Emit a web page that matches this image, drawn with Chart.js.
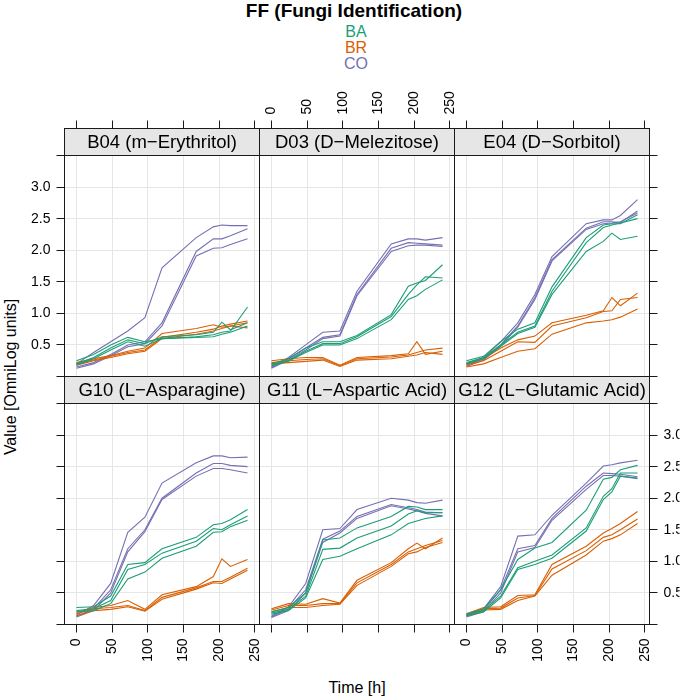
<!DOCTYPE html>
<html><head><meta charset="utf-8">
<script src="https://cdn.jsdelivr.net/npm/chart.js@4.4.1/dist/chart.umd.min.js"></script>
<style>
html,body{margin:0;padding:0;background:#fff;}
#wrap{position:relative;width:685px;height:697px;overflow:hidden;font-family:"Liberation Sans",Arial,Helvetica,sans-serif;}
canvas{position:absolute;left:0;top:0;}
.t{position:absolute;white-space:nowrap;line-height:1;transform:translate(-50%,-50%);color:#000;}
</style></head><body><div id="wrap">
<div class="t" style="left:354px;top:10px;font-size:19px;font-weight:bold;">FF (Fungi Identification)</div>
<div class="t" style="left:356px;top:32px;font-size:16px;color:#1B9E77;">BA</div>
<div class="t" style="left:356px;top:48px;font-size:16px;color:#D95F02;">BR</div>
<div class="t" style="left:356px;top:64px;font-size:16px;color:#7570B3;">CO</div>
<div class="t" style="left:357px;top:688px;font-size:16px;">Time [h]</div>
<div class="t" style="left:11px;top:377px;font-size:16px;transform:translate(-50%,-50%) rotate(-90deg);">Value [OmniLog units]</div>
</div>
<script>
// ---- data ----
const times = [0, 24, 48, 72, 96, 120, 168, 192, 204, 216, 240];
const groups = ['BA', 'BR', 'CO'];
const groupColors = ['#1B9E77', '#D95F02', '#7570B3'];
const panelTitles = ['B04 (m\u2212Erythritol)', 'D03 (D\u2212Melezitose)', 'E04 (D\u2212Sorbitol)',
                     'G10 (L\u2212Asparagine)', 'G11 (L\u2212Aspartic Acid)', 'G12 (L\u2212Glutamic Acid)'];
const xTickValues = [0, 50, 100, 150, 200, 250];
const xTickLabels = ['0', '50', '100', '150', '200', '250'];
const yTickValues = [0, 0.5, 1, 1.5, 2, 2.5, 3, 3.5];
const yTickLabels = ['', '0.5', '1.0', '1.5', '2.0', '2.5', '3.0', ''];

const B04_BA = [[0.25,0.35,0.50,0.62,0.55,0.60,0.63,0.66,0.70,0.72,1.10],
                [0.20,0.30,0.45,0.58,0.52,0.63,0.66,0.70,0.86,0.74,0.85],
                [0.18,0.28,0.42,0.55,0.48,0.60,0.62,0.63,0.67,0.70,0.80]];
const B04_BR = [[0.22,0.28,0.33,0.40,0.45,0.68,0.76,0.82,0.78,0.80,0.77],
                [0.20,0.26,0.32,0.38,0.42,0.62,0.70,0.75,0.80,0.83,0.88],
                [0.18,0.25,0.30,0.36,0.40,0.60,0.67,0.72,0.76,0.80,0.85]];
const B04_CO = [[0.20,0.38,0.55,0.72,0.93,1.72,2.20,2.37,2.40,2.39,2.39],
                [0.15,0.22,0.35,0.50,0.55,0.85,1.98,2.18,2.18,2.23,2.34],
                [0.13,0.20,0.33,0.47,0.52,0.80,1.91,2.03,2.04,2.09,2.18]];

const D03_BA = [[0.20,0.28,0.45,0.55,0.55,0.65,0.98,1.43,1.48,1.52,1.77],
                [0.18,0.25,0.40,0.52,0.52,0.63,0.95,1.30,1.45,1.58,1.56],
                [0.17,0.24,0.38,0.50,0.50,0.60,0.90,1.22,1.28,1.38,1.53]];
const D03_BR = [[0.25,0.28,0.30,0.30,0.18,0.30,0.33,0.36,0.55,0.35,0.40],
                [0.22,0.25,0.27,0.28,0.17,0.28,0.31,0.34,0.38,0.42,0.45],
                [0.20,0.22,0.24,0.26,0.16,0.26,0.28,0.32,0.34,0.38,0.35]];
const D03_CO = [[0.15,0.30,0.50,0.70,0.72,1.35,2.10,2.18,2.18,2.16,2.20],
                [0.14,0.28,0.45,0.62,0.66,1.30,2.03,2.12,2.11,2.10,2.08],
                [0.13,0.26,0.42,0.60,0.64,1.28,1.98,2.07,2.08,2.08,2.06]];

const E04_BA = [[0.25,0.32,0.55,0.75,0.85,1.42,2.20,2.40,2.42,2.42,2.56],
                [0.22,0.30,0.50,0.70,0.80,1.35,2.12,2.36,2.40,2.43,2.50],
                [0.20,0.28,0.48,0.68,0.78,1.30,1.98,2.14,2.27,2.17,2.22]];
const E04_BR = [[0.20,0.28,0.45,0.58,0.64,0.85,0.97,1.04,1.25,1.12,1.32],
                [0.18,0.25,0.40,0.55,0.54,0.80,0.93,1.03,1.04,1.22,1.25],
                [0.15,0.20,0.30,0.40,0.44,0.67,0.85,0.88,0.90,0.94,1.07]];
const E04_CO = [[0.20,0.30,0.55,0.85,1.30,1.90,2.42,2.48,2.48,2.55,2.80],
                [0.18,0.28,0.50,0.80,1.25,1.85,2.35,2.45,2.45,2.44,2.62],
                [0.16,0.26,0.48,0.78,1.22,1.83,2.33,2.42,2.43,2.45,2.59]];

const G10_BA = [[0.27,0.28,0.45,0.95,0.98,1.20,1.38,1.58,1.60,1.66,1.82],
                [0.22,0.25,0.38,0.87,0.95,1.13,1.32,1.52,1.50,1.58,1.72],
                [0.20,0.22,0.33,0.72,0.83,1.05,1.24,1.46,1.47,1.55,1.65]];
const G10_BR = [[0.19,0.27,0.30,0.38,0.24,0.47,0.60,0.76,1.04,0.92,1.03],
                [0.17,0.25,0.27,0.30,0.22,0.43,0.58,0.68,0.68,0.75,0.89],
                [0.14,0.22,0.24,0.28,0.21,0.40,0.56,0.66,0.65,0.72,0.86]];
const G10_CO = [[0.15,0.30,0.65,1.46,1.70,2.24,2.56,2.67,2.67,2.64,2.65],
                [0.13,0.25,0.55,1.20,1.50,2.00,2.40,2.55,2.55,2.52,2.50],
                [0.12,0.22,0.50,1.15,1.47,1.98,2.35,2.47,2.47,2.45,2.40]];

const G11_BA = [[0.20,0.27,0.50,1.34,1.37,1.53,1.71,1.87,1.86,1.82,1.82],
                [0.18,0.24,0.45,1.19,1.21,1.37,1.56,1.75,1.80,1.77,1.77],
                [0.16,0.22,0.42,1.03,1.08,1.20,1.42,1.60,1.64,1.68,1.72]];
const G11_BR = [[0.25,0.33,0.32,0.41,0.34,0.70,0.98,1.20,1.29,1.20,1.37],
                [0.23,0.30,0.30,0.33,0.33,0.66,0.95,1.15,1.20,1.25,1.33],
                [0.20,0.27,0.27,0.30,0.32,0.62,0.92,1.12,1.15,1.22,1.30]];
const G11_CO = [[0.13,0.28,0.65,1.50,1.52,1.82,2.00,1.97,1.93,1.92,1.97],
                [0.12,0.25,0.55,1.35,1.48,1.71,1.90,1.85,1.82,1.78,1.77],
                [0.11,0.22,0.50,1.30,1.45,1.68,1.88,1.83,1.80,1.76,1.72]];

const G12_BA = [[0.17,0.25,0.55,1.03,1.21,1.30,1.81,2.30,2.33,2.45,2.52],
                [0.15,0.22,0.45,0.90,1.00,1.10,1.53,2.03,2.15,2.40,2.40],
                [0.14,0.20,0.42,0.87,0.95,1.05,1.48,1.98,2.10,2.35,2.32]];
const G12_BR = [[0.17,0.27,0.28,0.46,0.47,0.95,1.24,1.45,1.52,1.60,1.79],
                [0.16,0.25,0.26,0.42,0.46,0.88,1.17,1.38,1.42,1.50,1.67],
                [0.15,0.23,0.24,0.38,0.45,0.78,1.10,1.32,1.36,1.42,1.60]];
const G12_CO = [[0.15,0.25,0.60,1.40,1.42,1.73,2.24,2.51,2.53,2.56,2.60],
                [0.13,0.22,0.55,1.20,1.25,1.68,2.19,2.40,2.39,2.38,2.34],
                [0.12,0.20,0.50,1.15,1.22,1.65,2.14,2.36,2.36,2.35,2.31]];

const panelSeries = [[B04_BA, B04_BR, B04_CO], [D03_BA, D03_BR, D03_CO], [E04_BA, E04_BR, E04_CO],
                     [G10_BA, G10_BR, G10_CO], [G11_BA, G11_BR, G11_CO], [G12_BA, G12_BR, G12_CO]];

// ---- layout / style ----
const W = 685, H = 697;
const colLeft = [64.5, 259.5, 454.5], colW = 195;
const rowTop = [128.5, 376.5], boxH = 248, stripH = 27;
const xMin = -16.8, xMax = 256.8, yLo = 0, yHi = 3.5;
const plotH = boxH - stripH;
const yHiChart = yHi + stripH * (yHi - yLo) / plotH;
const FONT = '"Liberation Sans", Arial, Helvetica, sans-serif';
const TICK_FONT = 14;
const tickLen = 8;
const topH = 60, bottomH = 60, leftW = 50, rightW = 30;

function gridAxis(axisId) {
  const isX = axisId === 'x';
  return {
    type: 'linear', axis: isX ? 'x' : 'y', position: isX ? 'bottom' : 'left',
    min: isX ? xMin : yLo, max: isX ? xMax : yHiChart,
    grid: { display: true, drawOnChartArea: true, drawTicks: false, color: '#E6E6E6', lineWidth: 1 },
    border: { display: false },
    ticks: { display: false },
    afterBuildTicks: s => { s.ticks = (isX ? xTickValues : yTickValues).map(v => ({ value: v })); },
    afterFit: s => { if (isX) s.height = 0; else s.width = 0; }
  };
}
function tickAxis(isX, position, showLabels, size) {
  const vals = isX ? xTickValues : yTickValues;
  const labs = isX ? xTickLabels : yTickLabels;
  return {
    type: 'linear', axis: isX ? 'x' : 'y', position,
    min: isX ? xMin : yLo, max: isX ? xMax : yHiChart,
    grid: { display: true, drawOnChartArea: false, drawTicks: true, tickLength: tickLen, tickColor: '#1a1a1a', tickWidth: 1 },
    border: { display: false },
    ticks: { display: showLabels, autoSkip: false, color: '#000', font: { family: FONT, size: TICK_FONT },
             padding: 6, minRotation: isX ? 90 : 0, maxRotation: isX ? 90 : 0,
             // Chart.js shifts rotated top-axis labels by one line height; compensate
             labelOffset: position === 'top' ? TICK_FONT * 1.2 : 0,
             callback: (v, i) => labs[i] },
    afterBuildTicks: s => { s.ticks = vals.map(v => ({ value: v })); },
    afterFit: s => { if (isX) s.height = size; else s.width = size; }
  };
}

const panelPlugin = {
  id: 'panel',
  beforeDatasetsDraw(chart) {
    const a = chart.chartArea, ctx = chart.ctx;
    ctx.save();
    ctx.fillStyle = '#E6E6E6';
    ctx.fillRect(a.left, a.top, a.right - a.left, stripH);
    ctx.restore();
  },
  afterDatasetsDraw(chart, args, opts) {
    const a = chart.chartArea, ctx = chart.ctx;
    ctx.save();
    ctx.strokeStyle = '#1a1a1a';
    ctx.lineWidth = 1;
    ctx.beginPath();
    ctx.moveTo(a.left, a.top + stripH); ctx.lineTo(a.right, a.top + stripH);
    ctx.stroke();
    ctx.strokeRect(a.left, a.top, a.right - a.left, a.bottom - a.top);
    ctx.fillStyle = '#000';
    ctx.font = '18.5px ' + FONT;
    ctx.textAlign = 'center';
    ctx.textBaseline = 'middle';
    ctx.fillText(opts.title, (a.left + a.right) / 2, a.top + stripH / 2 + 1);
    ctx.restore();
  }
};

const wrap = document.getElementById('wrap');
panelSeries.forEach((series, p) => {
  const r = Math.floor(p / 3), c = p % 3;
  const left = colLeft[c], top = rowTop[r];
  const right = left + colW, bottom = top + boxH;
  const scales = { x: gridAxis('x'), y: gridAxis('y') };
  const pad = { left: left, top: top, right: W - right, bottom: H - bottom };
  if (r === 0) { scales.xt = tickAxis(true, 'top', c === 1, topH); pad.top -= topH; }
  if (r === 1) { scales.xb = tickAxis(true, 'bottom', c !== 1, bottomH); pad.bottom -= bottomH; }
  if (c === 0) { scales.yl = tickAxis(false, 'left', r === 0, leftW); pad.left -= leftW; }
  if (c === 2) { scales.yr = tickAxis(false, 'right', r === 1, rightW); pad.right -= rightW; }

  const datasets = [];
  series.forEach((reps, g) => {
    reps.forEach(vals => {
      datasets.push({
        label: groups[g],
        data: times.map((t, i) => ({ x: t, y: vals[i] })),
        borderColor: groupColors[g], borderWidth: 1.1,
        pointRadius: 0, fill: false, tension: 0
      });
    });
  });

  const cv = document.createElement('canvas');
  cv.width = W; cv.height = H;
  cv.style.width = W + 'px'; cv.style.height = H + 'px';
  wrap.appendChild(cv);
  new Chart(cv, {
    type: 'line',
    data: { datasets },
    options: {
      responsive: false, animation: false, devicePixelRatio: 1, events: [],
      layout: { padding: pad },
      scales,
      plugins: { legend: { display: false }, tooltip: { enabled: false }, title: { display: false },
                 panel: { title: panelTitles[p] } }
    },
    plugins: [panelPlugin]
  });
});
</script>
</body></html>
